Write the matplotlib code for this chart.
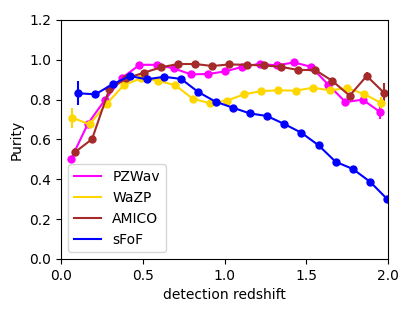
import numpy as np
import matplotlib
matplotlib.use('Agg')
import matplotlib.pyplot as plt

# bin centres (each catalogue is shifted a little in the original)
z_pzwav = [0.060, 0.165, 0.270, 0.375, 0.480, 0.585, 0.690, 0.795, 0.900, 1.005,
           1.110, 1.215, 1.320, 1.425, 1.530, 1.635, 1.740, 1.845, 1.950]
z_wazp = [0.070, 0.175, 0.280, 0.385, 0.490, 0.595, 0.700, 0.805, 0.910, 1.015,
          1.120, 1.225, 1.330, 1.435, 1.540, 1.645, 1.750, 1.855, 1.960]
z_amico = [0.085, 0.190, 0.295, 0.400, 0.505, 0.610, 0.715, 0.820, 0.925, 1.030,
           1.135, 1.240, 1.345, 1.450, 1.555, 1.660, 1.765, 1.870, 1.975]
z_sfof = [0.105, 0.210, 0.315, 0.420, 0.525, 0.630, 0.735, 0.840, 0.945, 1.050,
          1.155, 1.260, 1.365, 1.470, 1.575, 1.680, 1.785, 1.890, 1.995]

pur_pzwav = [0.50, 0.68, 0.80, 0.91, 0.975, 0.975, 0.957, 0.927, 0.929, 0.942,
             0.965, 0.98, 0.972, 0.987, 0.965, 0.875, 0.788, 0.80, 0.739]
err_pzwav = [0.015, 0.01, 0.01, 0.005, 0.005, 0.005, 0.005, 0.005, 0.005, 0.005,
             0.005, 0.005, 0.005, 0.008, 0.01, 0.01, 0.012, 0.02, 0.037]

pur_wazp = [0.709, 0.676, 0.78, 0.874, 0.907, 0.895, 0.872, 0.805, 0.782, 0.795,
            0.827, 0.843, 0.847, 0.845, 0.86, 0.847, 0.858, 0.828, 0.782]
err_wazp = [0.05, 0.01, 0.008, 0.005, 0.005, 0.005, 0.005, 0.005, 0.005, 0.005,
            0.005, 0.005, 0.005, 0.005, 0.005, 0.008, 0.01, 0.015, 0.03]

pur_amico = [0.536, 0.602, 0.852, 0.907, 0.935, 0.962, 0.979, 0.979, 0.969, 0.977,
             0.975, 0.972, 0.965, 0.949, 0.949, 0.894, 0.82, 0.919, 0.835]
err_amico = [0.02, 0.01, 0.008, 0.005, 0.005, 0.005, 0.005, 0.005, 0.005, 0.005,
             0.005, 0.005, 0.005, 0.005, 0.008, 0.01, 0.012, 0.02, 0.05]

pur_sfof = [0.832, 0.827, 0.877, 0.919, 0.902, 0.915, 0.904, 0.838, 0.79, 0.76,
            0.731, 0.718, 0.678, 0.634, 0.571, 0.488, 0.452, 0.388, 0.301]
err_sfof = [0.06, 0.015, 0.008, 0.005, 0.005, 0.005, 0.005, 0.005, 0.005, 0.005,
            0.005, 0.005, 0.005, 0.005, 0.005, 0.005, 0.005, 0.005, 0.005]

fig = plt.figure(figsize=(4.15, 3.11), dpi=100)
ax = fig.add_axes([61/415, 1-259/311, (388-61)/415, (259-20)/311])

series = [
    ('PZWav', z_pzwav, pur_pzwav, err_pzwav, 'magenta'),
    ('WaZP', z_wazp, pur_wazp, err_wazp, 'gold'),
    ('AMICO', z_amico, pur_amico, err_amico, 'brown'),
    ('sFoF', z_sfof, pur_sfof, err_sfof, 'blue'),
]
for name, z, p, e, c in series:
    ax.errorbar(z, p, yerr=e, color=c, marker='o', markersize=5, lw=1.5, label=name)

ax.set_xlim(0, 2.0)
ax.set_ylim(0, 1.2)
ax.set_xlabel('detection redshift')
ax.set_ylabel('Purity')

# legend shows plain lines, no markers
handles = [plt.Line2D([], [], color=c, lw=1.5) for _, _, _, _, c in series]
ax.legend(handles, [s[0] for s in series], loc='lower left')

fig.savefig('out.png', dpi=100)
